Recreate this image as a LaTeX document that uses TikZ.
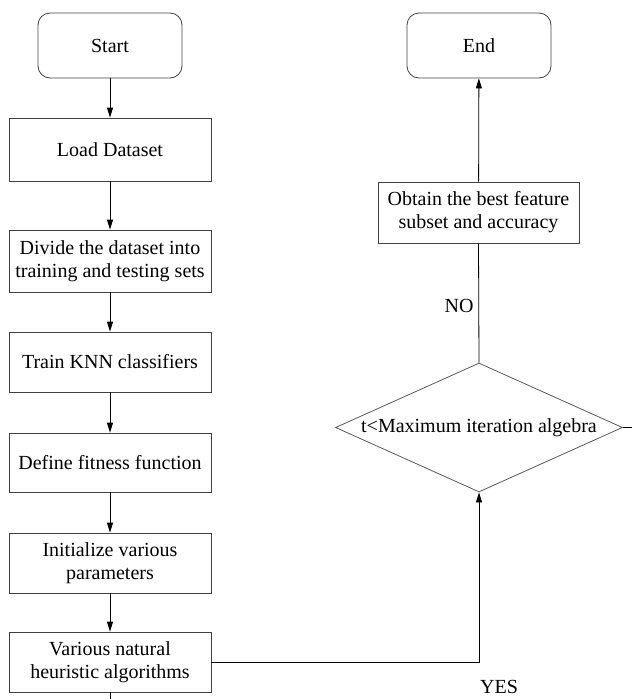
\documentclass[tikz,border=0pt]{standalone}
\usepackage{fontspec}
\setmainfont{Liberation Serif}
\usetikzlibrary{shapes.geometric,arrows.meta}

\begin{document}
\begin{tikzpicture}[x=1pt,y=1pt,yscale=-1,xscale=1,
  every node/.style={font=\fontsize{20}{23}\selectfont},
  stepbox/.style={draw=black!75, line width=0.8pt, minimum width=202pt, align=center, inner sep=0pt},
  termbox/.style={draw=black!75, line width=0.8pt, rounded corners=12pt, minimum width=144pt, minimum height=65pt},
  testbox/.style={draw=black!65, line width=0.8pt, diamond, shape aspect=2.2, minimum width=287pt, minimum height=129pt, inner sep=0pt},
  flow/.style={line width=0.8pt, -{Triangle[length=10pt,width=6pt]}}
]
\useasboundingbox (0,0) rectangle (632,699);

%Shape: Rounded Rect
\node [termbox] (start) at (110,45.5) {Start};
\node [termbox] (end) at (479,45.5) {End};

%Shape: Rectangle
\node [stepbox, minimum height=63pt] (load) at (110,149.5) {Load Dataset};
\node [stepbox, minimum height=62pt] (divide) at (110,261) {Divide the dataset into\\training and testing sets};
\node [stepbox, minimum height=60pt] (train) at (110,362) {Train KNN classifiers};
\node [stepbox, minimum height=59pt] (fitness) at (110,462.5) {Define fitness function};
\node [stepbox, minimum height=60pt] (init) at (110,563) {Initialize various\\parameters};
\node [stepbox, minimum height=60pt] (algo) at (110,662) {Various natural\\heuristic algorithms};
\node [stepbox, minimum width=201pt, minimum height=61pt] (best) at (478.5,212.5) {Obtain the best feature\\subset and accuracy};

%Shape: Diamond
\node [testbox] (test) at (479,427.5) {t<Maximum iteration algebra};

%free ends
\coordinate (down) at (110,699);
\coordinate (right) at (632,427.5);

%Straight Lines
\draw [flow] (start) -- (load);
\draw [flow] (load) -- (divide);
\draw [flow] (divide) -- (train);
\draw [flow] (train) -- (fitness);
\draw [flow] (fitness) -- (init);
\draw [flow] (init) -- (algo);
\draw [line width=0.8pt] (algo) -- (down);
\draw [flow] (algo.east) -| (test.south);
\draw [line width=0.8pt] (test.north) -- (best.south);
\draw [flow] (best) -- (end);
\draw [line width=0.8pt] (test.east) -- (right);

% Text Node
\node (no) at (459,306) {NO};
% Text Node
\node [anchor=base, inner sep=0pt] (yes) at (499,693) {YES};

\end{tikzpicture}
\end{document}
